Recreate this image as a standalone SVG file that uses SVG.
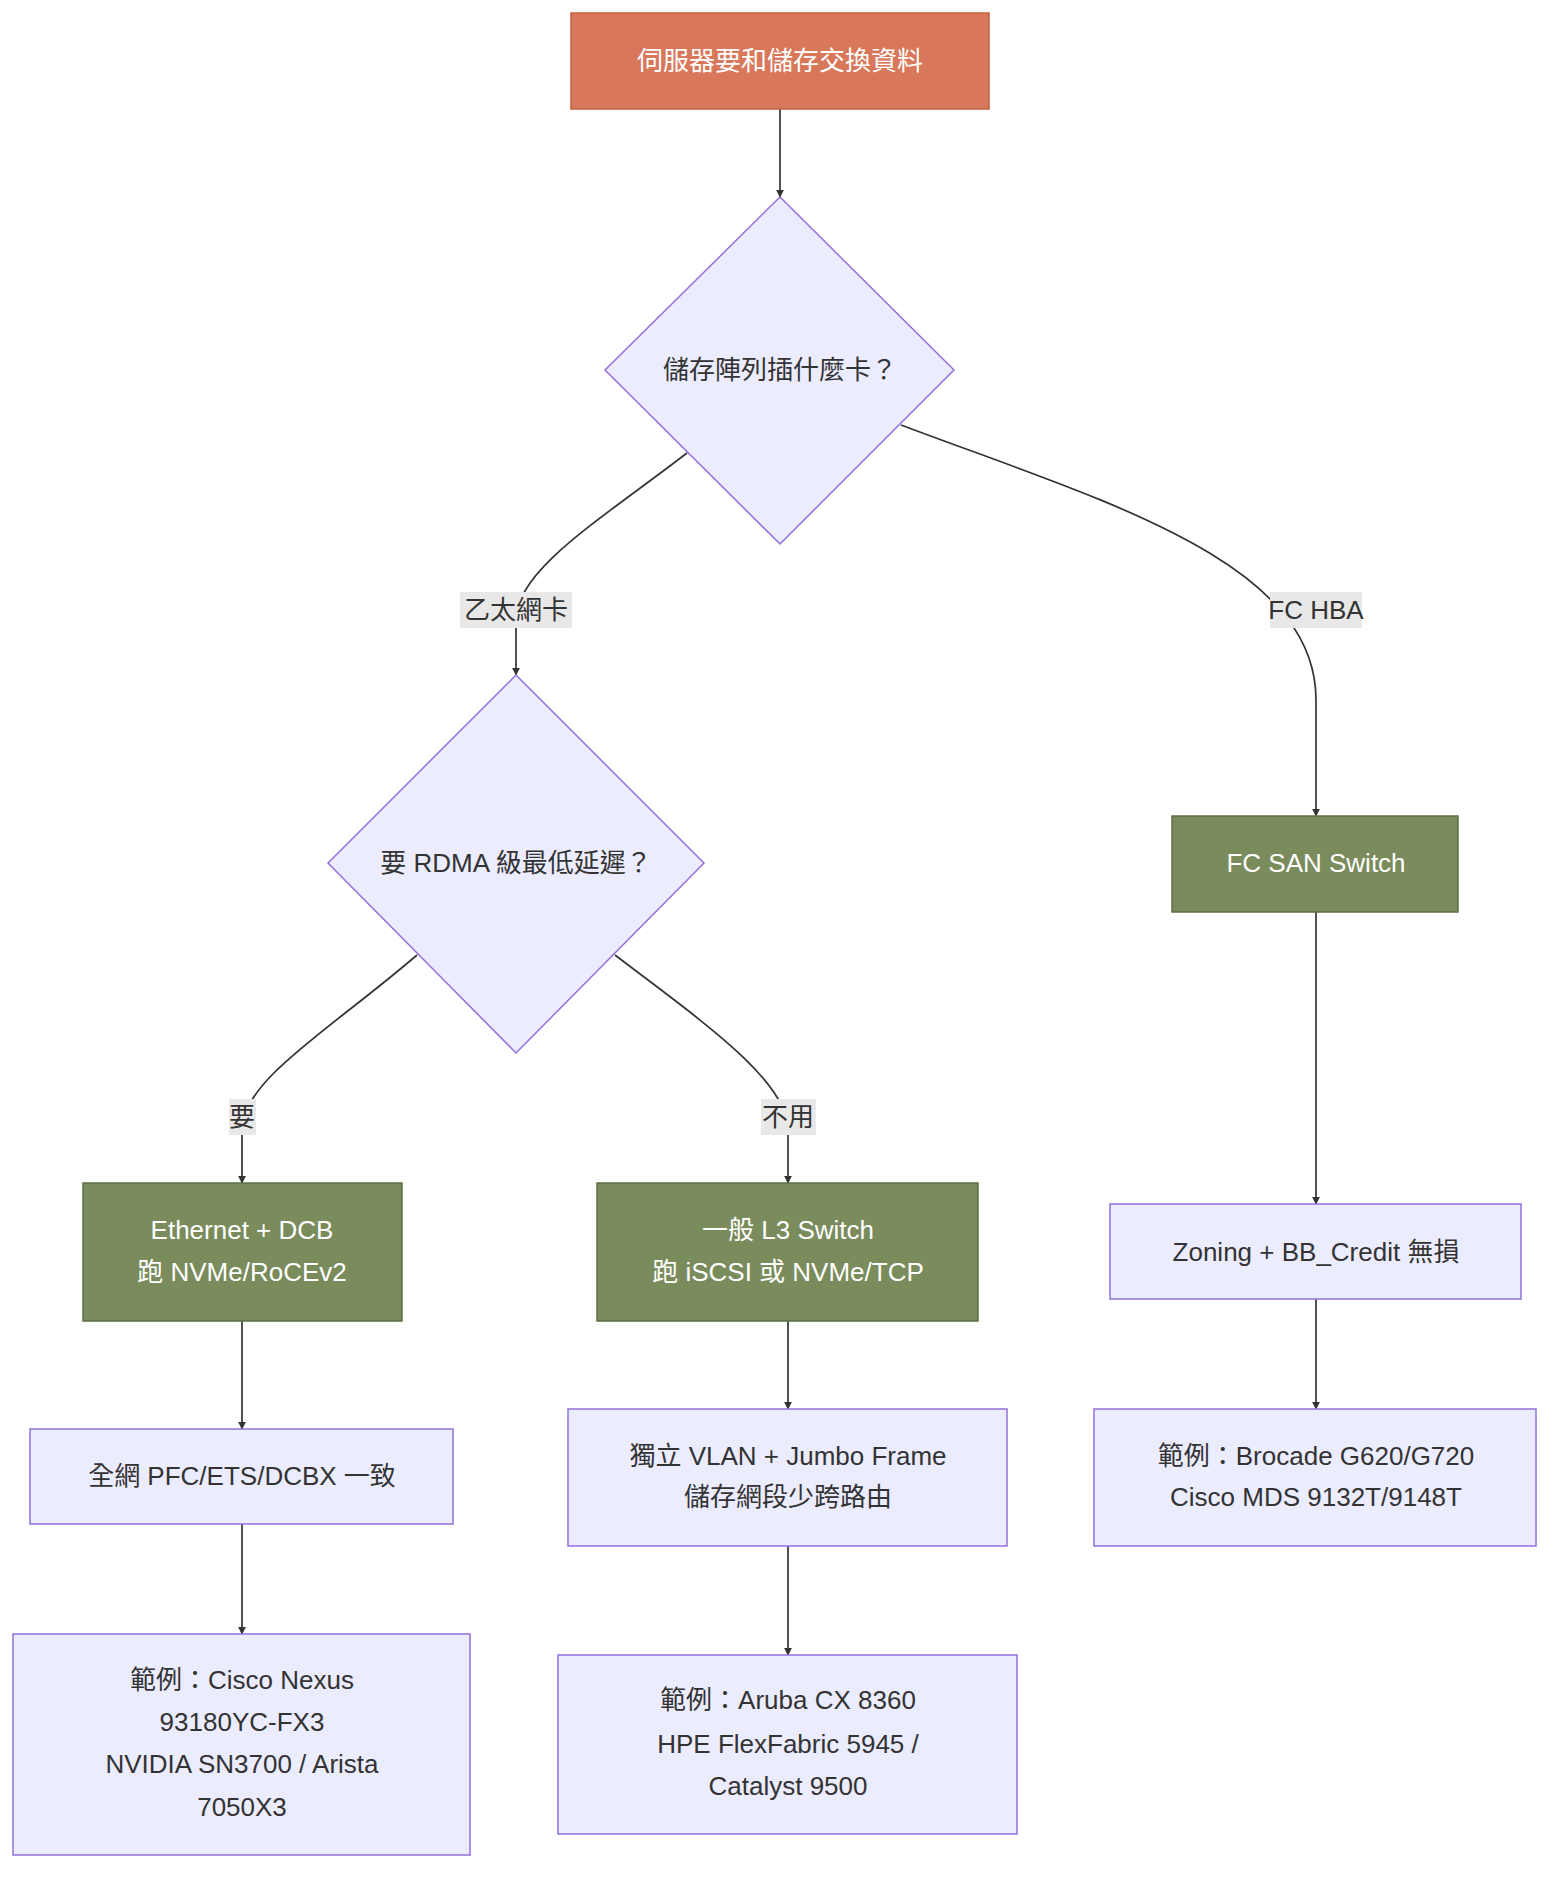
<svg xmlns="http://www.w3.org/2000/svg" width="1568" height="1892" viewBox="0 0 1568 1892">
<style>
text{font-family:"Liberation Sans","Noto Sans CJK TC",sans-serif;font-size:26px;text-anchor:middle;dominant-baseline:central;fill:#333}
.w{fill:#fff}
.start{fill:#d9775a;stroke:#c0633f;stroke-width:1.5}
.g{fill:#7a8b5c;stroke:#5e6d45;stroke-width:1.5}
.l{fill:#ececff;stroke:#9370db;stroke-width:1.5}
.e{fill:none;stroke:#333;stroke-width:1.7;marker-end:url(#a)}
.lb{fill:#e8e8e8}
</style>
<defs><marker id="a" viewBox="0 0 10 10" refX="9" refY="5" markerWidth="8" markerHeight="8" orient="auto" markerUnits="userSpaceOnUse"><path d="M0,0L10,5L0,10z" fill="#333"/></marker></defs>
<g id="edges">
<path class="e" d="M780,109L780,197"/>
<path class="e" d="M687,453C600,520 516,570 516,620L516,675"/>
<path class="e" d="M901,425C1100,500 1316,560 1316,700L1316,816"/>
<path class="e" d="M417,955C330,1030 242,1080 242,1130L242,1183"/>
<path class="e" d="M615,955C700,1020 788,1080 788,1130L788,1183"/>
<path class="e" d="M242,1321L242,1429"/>
<path class="e" d="M242,1524L242,1634"/>
<path class="e" d="M788,1321L788,1409"/>
<path class="e" d="M788,1546L788,1655"/>
<path class="e" d="M1316,912L1316,1204"/>
<path class="e" d="M1316,1299L1316,1409"/>
<rect class="lb" x="460" y="592" width="112" height="36"/><text x="516" y="610">乙太網卡</text>
<rect class="lb" x="1270" y="592" width="92" height="36"/><text x="1316" y="610">FC HBA</text>
<rect class="lb" x="229" y="1099" width="27" height="36"/><text x="242" y="1117">要</text>
<rect class="lb" x="761" y="1099" width="55" height="36"/><text x="788" y="1117">不用</text>
</g>
<g id="n0"><rect class="start" x="571" y="13" width="418" height="96"/><text class="w" x="780" y="61">伺服器要和儲存交換資料</text></g>
<g id="n1"><polygon class="l" points="780,197 954,370 780,544 605,370"/><text x="780" y="370">儲存陣列插什麼卡？</text></g>
<g id="n2"><polygon class="l" points="516,675 704,863 516,1053 328,863"/><text x="516" y="863">要 RDMA 級最低延遲？</text></g>
<g id="n3"><rect class="g" x="1172" y="816" width="286" height="96"/><text class="w" x="1316" y="863">FC SAN Switch</text></g>
<g id="n4"><rect class="g" x="83" y="1183" width="319" height="138"/><text class="w" x="242" y="1230">Ethernet + DCB</text><text class="w" x="242" y="1272">跑 NVMe/RoCEv2</text></g>
<g id="n5"><rect class="g" x="597" y="1183" width="381" height="138"/><text class="w" x="788" y="1230">一般 L3 Switch</text><text class="w" x="788" y="1272">跑 iSCSI 或 NVMe/TCP</text></g>
<g id="n6"><rect class="l" x="1110" y="1204" width="411" height="95"/><text x="1316" y="1252">Zoning + BB_Credit 無損</text></g>
<g id="n7"><rect class="l" x="30" y="1429" width="423" height="95"/><text x="242" y="1476">全網 PFC/ETS/DCBX 一致</text></g>
<g id="n8"><rect class="l" x="568" y="1409" width="439" height="137"/><text x="788" y="1456">獨立 VLAN + Jumbo Frame</text><text x="788" y="1497">儲存網段少跨路由</text></g>
<g id="n9"><rect class="l" x="1094" y="1409" width="442" height="137"/><text x="1316" y="1456">範例：Brocade G620/G720</text><text x="1316" y="1497">Cisco MDS 9132T/9148T</text></g>
<g id="n10"><rect class="l" x="13" y="1634" width="457" height="221"/><text x="242" y="1680">範例：Cisco Nexus</text><text x="242" y="1722">93180YC-FX3</text><text x="242" y="1764">NVIDIA SN3700 / Arista</text><text x="242" y="1807">7050X3</text></g>
<g id="n11"><rect class="l" x="558" y="1655" width="459" height="179"/><text x="788" y="1700">範例：Aruba CX 8360</text><text x="788" y="1744">HPE FlexFabric 5945 /</text><text x="788" y="1786">Catalyst 9500</text></g>
</svg>
